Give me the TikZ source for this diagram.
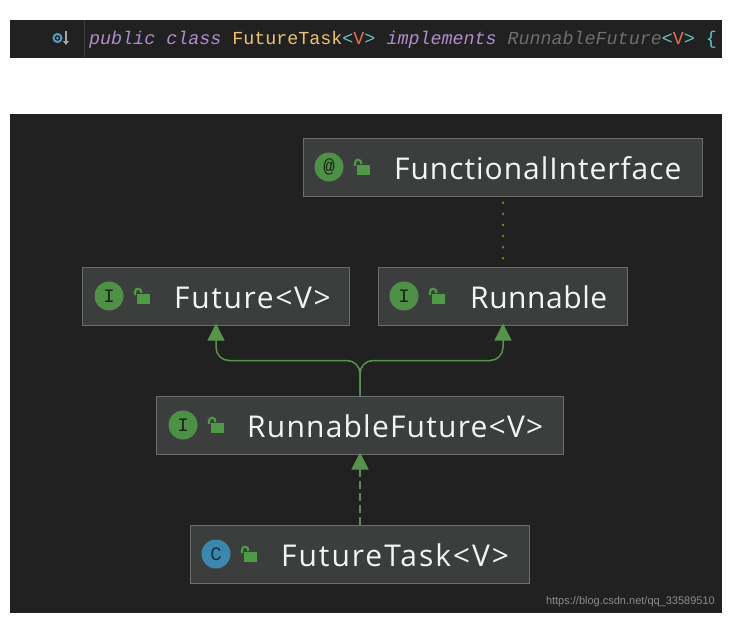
\documentclass[tikz,border=0pt]{standalone}
\usepackage{fontspec}
\setmainfont{Open Sans}
\newfontfamily\codefont{Liberation Mono}
\newfontfamily\notefont{Liberation Sans}
\usetikzlibrary{arrows.meta}
\definecolor{panel}{HTML}{212121}
\definecolor{boxfill}{HTML}{3C3D3D}
\definecolor{boxline}{HTML}{6C6D6D}
\definecolor{labeltext}{HTML}{F0F6F3}
\definecolor{ifacegreen}{HTML}{4E9045}
\definecolor{lockgreen}{HTML}{4F9A45}
\definecolor{classblue}{HTML}{3A88AE}
\definecolor{edgegreen}{HTML}{58934E}
\definecolor{dotolive}{HTML}{7C8C1C}
\definecolor{kwpurple}{HTML}{B08CCB}
\definecolor{typeyellow}{HTML}{EFC26F}
\definecolor{bracketteal}{HTML}{62C3BD}
\definecolor{paramred}{HTML}{DF6F55}
\definecolor{dimgrey}{HTML}{6E6E6E}
\tikzset{
  x=1pt, y=-1pt,
  classbox/.style={draw=boxline, line width=1pt, fill=boxfill, inner sep=0pt,
    minimum height=58pt},
  boxlabel/.style={anchor=base west, inner sep=0pt, text=labeltext,
    font=\fontsize{30}{32}\selectfont\addfontfeature{LetterSpace=#1}},
  badge/.style={circle, inner sep=0pt, minimum size=29pt},
  badgeletter/.style={font=\codefont\fontsize{19}{20}\selectfont, text=#1},
  inherit/.style={draw=edgegreen, line width=1.5pt, -{Triangle[length=17pt,width=17pt,fill=edgegreen]}},
  realize/.style={inherit, line width=1.8pt, dash pattern=on 8pt off 4pt},
  annotation/.style={draw=dotolive, line width=2.5pt, line cap=round, dash pattern=on 0.5pt off 10.6pt},
  code/.style={anchor=base west, inner sep=0pt, font=\codefont\fontsize{18.35}{20}\selectfont},
}
% circular kind badge followed by the open padlock
\newcommand{\kindmark}[6]{%
  \node[badge, fill=#4] (#1) at (#2,#3) {};
  \node[badgeletter=#5] at (#1.center) {#6};
  \fill[lockgreen] (#2+27.5,#3-2.5) rectangle (#2+40.5,#3+8);
  \draw[lockgreen, line width=2.2pt] (#2+26,#3-1) -- (#2+26,#3-4)
    .. controls (#2+26,#3-8.5) and (#2+32.5,#3-8.5) .. (#2+32.5,#3-3);
}
\begin{document}
\begin{tikzpicture}
\useasboundingbox[fill=white] (0,0) rectangle (731,632);

% source line
\fill[panel] (10,20) rectangle (722,58);
\draw[white!12!panel, line width=0.6pt] (84,20) -- (84,58);
\draw[classblue!85!white, line width=2pt, fill=panel] (57.5,38) circle (4pt);
\fill[classblue!85!white] (57.5,38) circle (1.5pt);
\draw[black!35!white, line width=1.3pt, -{Triangle[length=4pt,width=6pt]}] (66,31) -- (66,45);
\node[code] (source) at (89,44) {\itshape\textcolor{kwpurple}{public class} \upshape\textcolor{typeyellow}{FutureTask}\textcolor{bracketteal}{<}\textcolor{paramred}{V}\textcolor{bracketteal}{>} \itshape\textcolor{kwpurple}{implements} \textcolor{dimgrey}{RunnableFuture}\upshape\textcolor{bracketteal}{<}\textcolor{paramred}{V}\textcolor{bracketteal}{>} \textcolor{bracketteal}{\{}};

% diagram panel
\fill[panel] (10,114) rectangle (722,613);

\node[classbox, minimum width=399pt] (functional) at (503,167) {};
\node[classbox, minimum width=267pt] (future) at (216,296) {};
\node[classbox, minimum width=249pt] (runnable) at (503,296) {};
\node[classbox, minimum width=407pt] (runnablefuture) at (360,425) {};
\node[classbox, minimum width=339pt] (futuretask) at (360,554) {};

\kindmark{functionalmark}{329}{167}{ifacegreen}{black!75!ifacegreen}{@}
\kindmark{futuremark}{109}{296}{ifacegreen}{black!75!ifacegreen}{I}
\kindmark{runnablemark}{404}{296}{ifacegreen}{black!75!ifacegreen}{I}
\kindmark{runnablefuturemark}{183}{425}{ifacegreen}{black!75!ifacegreen}{I}
\kindmark{futuretaskmark}{216}{554}{classblue}{black!65!classblue}{C}

\node[boxlabel=3.2] (functionallabel) at (394,179) {FunctionalInterface};
\node[boxlabel=5.4] (futurelabel) at (174,308) {Future<V>};
\node[boxlabel=1.8] (runnablelabel) at (470,308) {Runnable};
\node[boxlabel=4] (runnablefuturelabel) at (247,437) {RunnableFuture<V>};
\node[boxlabel=6.5] (futuretasklabel) at (281,566) {FutureTask<V>};

% relations
\draw[annotation] (functional.south) ++(0,6) -- (runnable.north);
\draw[inherit, rounded corners=13pt] (runnablefuture.north) -- ++(0,-35) -| ([yshift=2pt]future.south);
\draw[inherit, rounded corners=13pt] (runnablefuture.north) -- ++(0,-35) -| ([yshift=2pt]runnable.south);
\draw[realize] (futuretask.north) -- ([yshift=2pt]runnablefuture.south);

\node[anchor=base east, inner sep=0pt, text=black!45!white, font=\notefont\fontsize{11}{12}\selectfont] (credit) at (715,604) {https://blog.csdn.net/qq\_33589510};
\end{tikzpicture}
\end{document}
